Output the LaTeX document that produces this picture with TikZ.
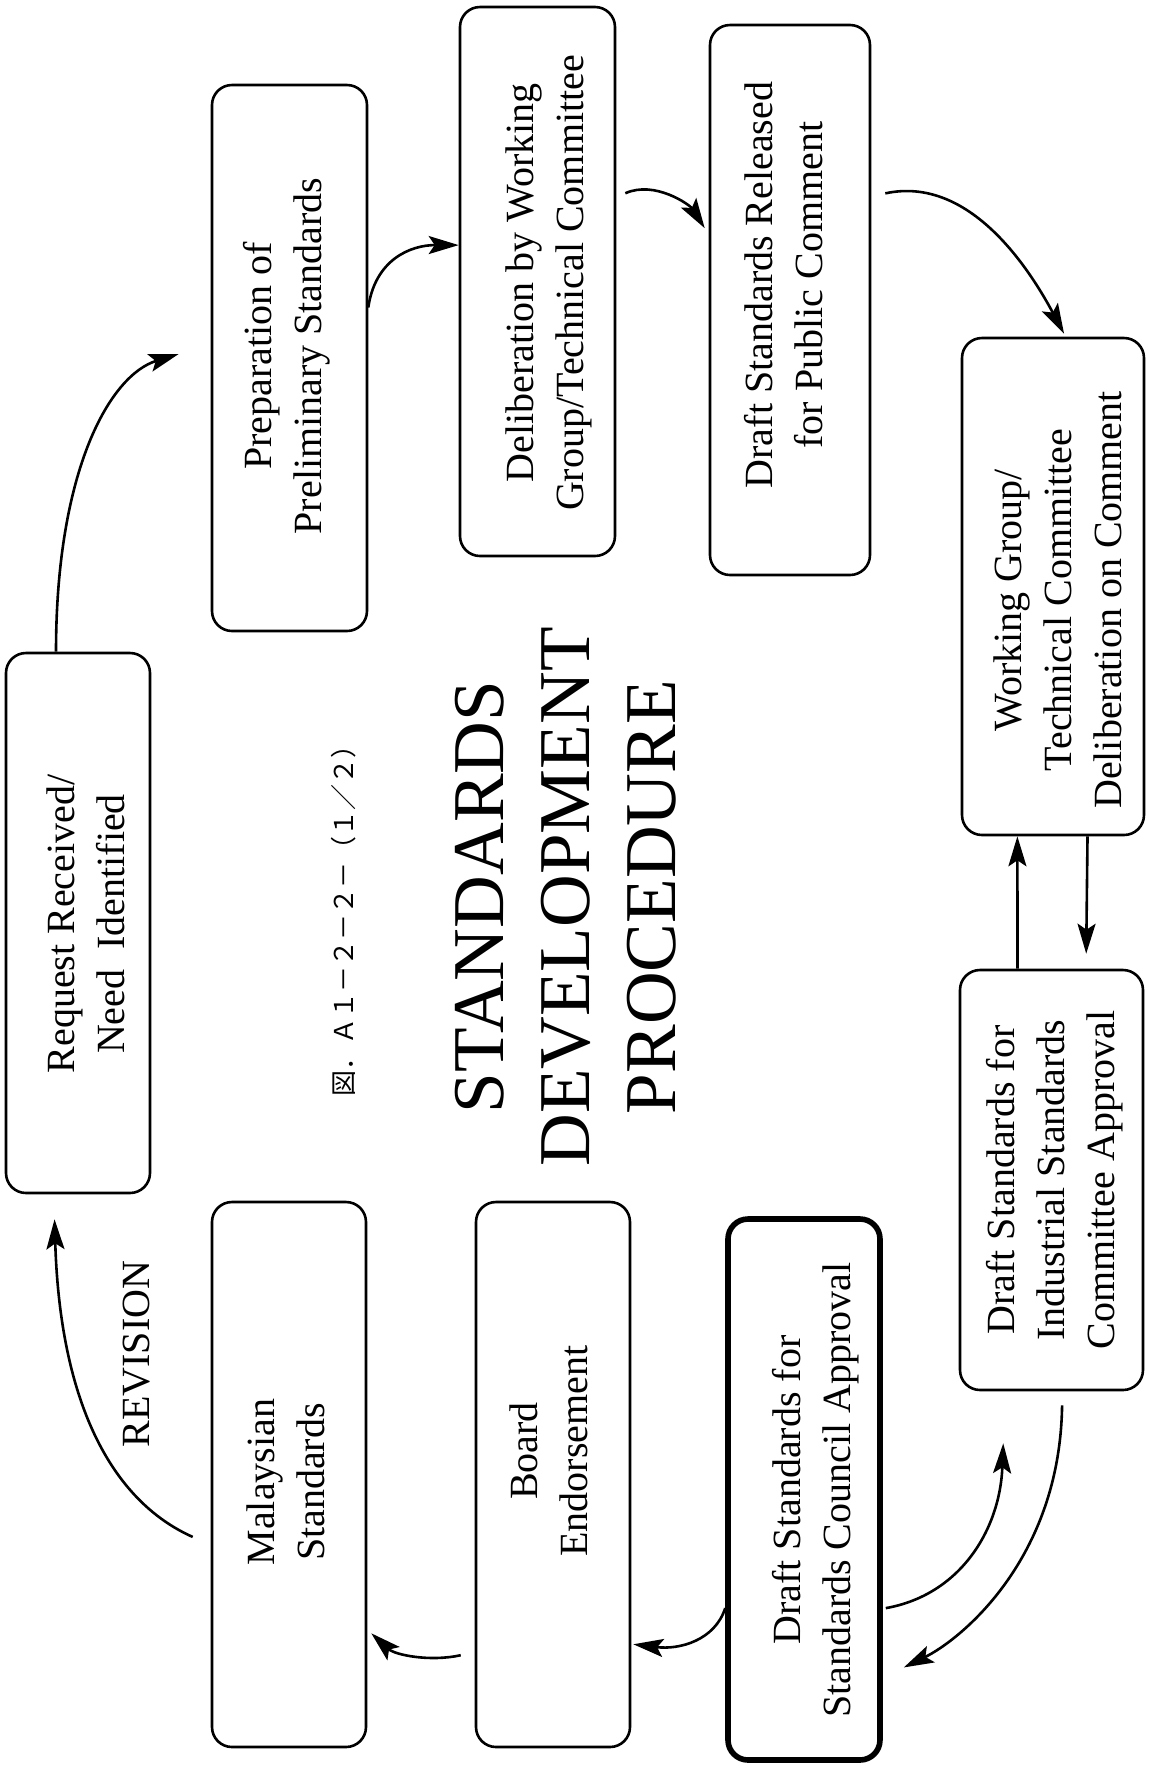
\documentclass[tikz,border=0pt]{standalone}
\usepackage{fontspec}
\setmainfont{Liberation Serif}
\newfontfamily\cjkfont{Noto Sans CJK JP}
\usetikzlibrary{arrows.meta,calc}
\begin{document}
\begin{tikzpicture}[x=0.5pt,y=-0.5pt,
  box/.style={draw, rounded corners=10pt, line width=1.3pt, inner sep=0pt},
  boldbox/.style={box, line width=2.8pt},
  lbl/.style={rotate=90, align=center, inner sep=0pt,
              font=\fontsize{20}{25}\selectfont},
  flow/.style={line width=1.3pt, -{Stealth[length=15pt,width=9pt,inset=3pt]}},
]
\useasboundingbox (0,0) rectangle (1149,1768);

% process boxes
\node[box, minimum width=72pt,   minimum height=270pt]   (req)  at (78,923)     {};
\node[box, minimum width=77.5pt, minimum height=273pt]   (prep) at (289.5,358)  {};
\node[box, minimum width=77.5pt, minimum height=274.5pt] (delib) at (537.5,281.5) {};
\node[box, minimum width=80pt,   minimum height=275pt]   (rel)  at (790,300)    {};
\node[box, minimum width=91pt,   minimum height=248.5pt] (wgc)  at (1053,586.5) {};
\node[box, minimum width=91.5pt, minimum height=210pt]   (isc)  at (1051.5,1180) {};
\node[boldbox, minimum width=76pt, minimum height=270.5pt] (sca) at (804,1489.5) {};
\node[box, minimum width=77pt,   minimum height=272.5pt] (brd)  at (553,1474.5) {};
\node[box, minimum width=77pt,   minimum height=272.5pt] (ms)   at (289,1474.5) {};

% box texts
\node[lbl] (reqt)  at (86,924)   {Request Received/\\Need\ \ Identified};
\node[lbl] (prept) at (287,356)  {Preparation of\\Preliminary Standards};
\node[lbl] (delibt) at (549,283) {Deliberation by Working\\Group/Technical Committee};
\node[lbl] (relt)  at (784,285)  {Draft Standards Released\\for Public Comment};
\node[lbl] (wgct)  at (1058,600) {Working Group/\\Technical Committee\\Deliberation on Comment};
\node[lbl] (isct)  at (1055,1180) {Draft Standards for\\Industrial Standards\\Committee Approval};
\node[lbl] (scat)  at (816,1490) {Draft Standards for\\Standards Council Approval};
\node[lbl] (brdt)  at (549,1451) {Board\\Endorsement};
\node[lbl] (mst)   at (286,1482) {Malaysian\\Standards};

% title and figure number
\node[rotate=90, align=center, inner sep=0pt,
      font=\fontsize{36.5}{43}\selectfont] (title) at (566,897)
  {STANDARDS\\DEVELOPMENT\\PROCEDURE};
\node[rotate=90, inner sep=0pt, font=\cjkfont\fontsize{13}{13}\selectfont] (fig)
  at (344,914) {図．Ａ１－２－２－（１／２）};

% flow connectors
\draw[flow] ($(req.north west)!0.35!(req.north east)$)
  .. controls (56,470) and (110,375) .. ($(prep.west)+(-32,-4)$);
\draw[flow] ($(prep.north east)!0.408!(prep.south east)$)
  .. controls (375,260) and (410,245) .. ($(delib.north west)!0.434!(delib.south west)$);
\draw[flow] ($(delib.north east)!0.34!(delib.south east)+(9,0)$)
  .. controls (655,180) and (690,205) .. ($(rel.north west)!0.37!(rel.south west)+(-4,0)$);
\draw[flow] ($(rel.north east)!0.307!(rel.south east)+(14,0)$)
  .. controls (970,175) and (1030,270) .. ($(wgc.north west)!0.56!(wgc.north east)+(0,-3)$);
\draw[flow] ($(isc.north west)!0.317!(isc.north east)$) -- ($(wgc.south west)!0.307!(wgc.south east)$);
\draw[flow] ($(wgc.south west)!0.687!(wgc.south east)$) -- ($(isc.north west)!0.687!(isc.north east)+(0,-15)$);
\draw[flow] ($(isc.south west)!0.557!(isc.south east)+(0,14)$)
  .. controls (1060,1560) and (960,1640) .. ($(sca.north east)!0.82!(sca.south east)+(21,3)$);
\draw[flow] ($(sca.north east)!0.717!(sca.south east)+(3,0)$)
  .. controls (960,1595) and (1000,1530) .. ($(isc.south west)!0.24!(isc.south east)+(0,52)$);
\draw[flow] ($(sca.north west)!0.717!(sca.south west)$)
  .. controls (715,1640) and (680,1650) .. ($(brd.north east)!0.81!(brd.south east)+(2,0)$);
\draw[flow] ($(brd.north west)!0.83!(brd.south west)+(-14,0)$)
  .. controls (430,1662) and (395,1655) .. ($(ms.north east)!0.79!(ms.south east)+(4,0)$);
\draw[flow] ($(ms.north west)!0.614!(ms.south west)+(-18,0)$)
  .. controls (110,1500) and (60,1400) .. ($(req.south west)!0.34!(req.south east)+(0,25)$);
\node[rotate=90, inner sep=0pt, font=\fontsize{20}{20}\selectfont] (rev)
  at (137,1354) {REVISION};
\end{tikzpicture}
\end{document}
